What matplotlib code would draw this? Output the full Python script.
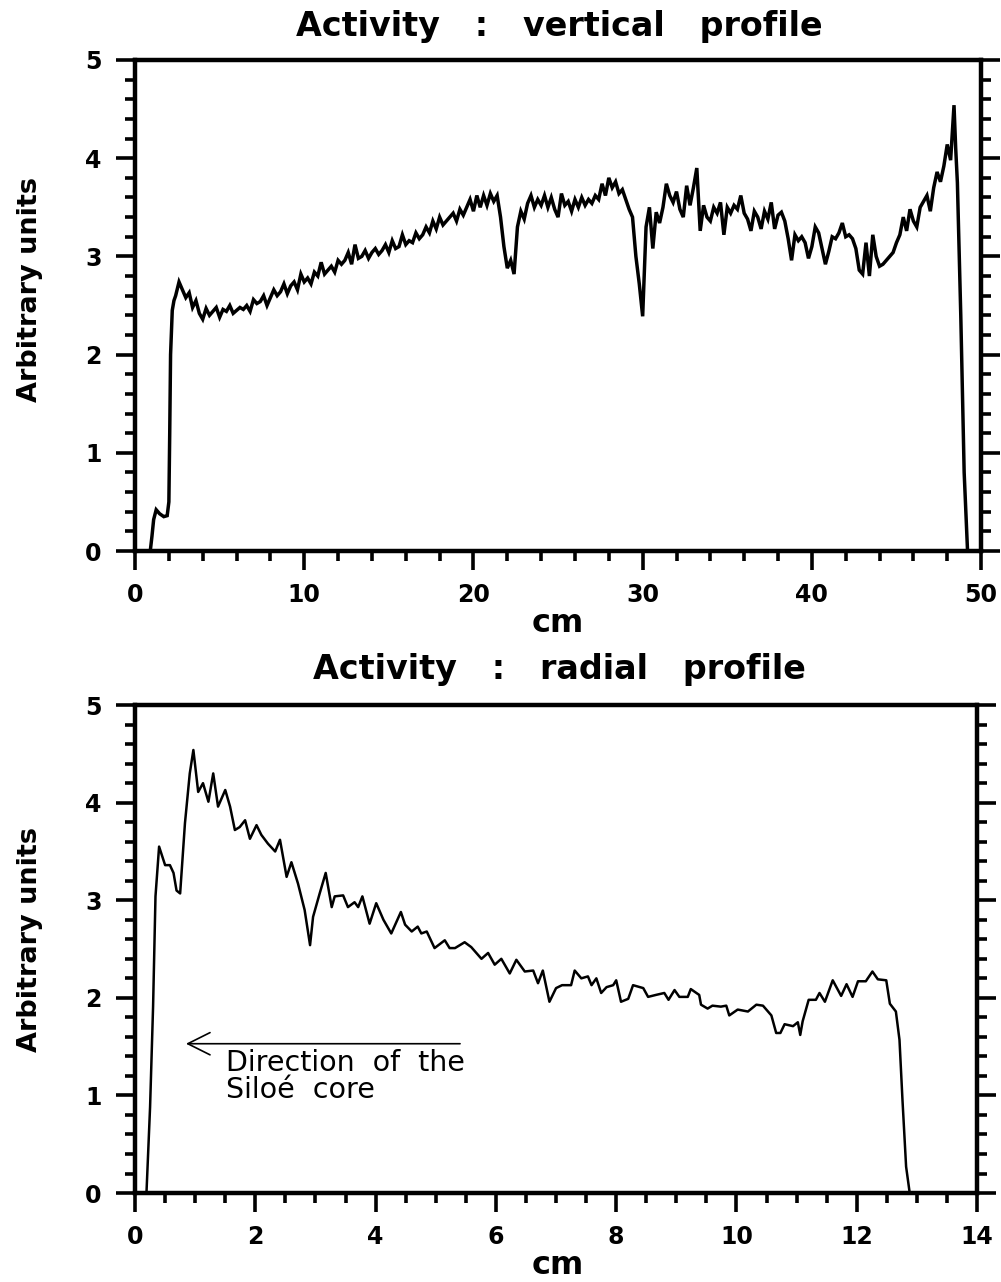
import numpy as np
import matplotlib
matplotlib.use("Agg")
import matplotlib.pyplot as plt
from matplotlib.ticker import MultipleLocator

plt.rcParams['font.family'] = ['DejaVu Sans']

# ---- vertical profile (cm, arbitrary units) ----
vert_lead_x = [0.0, 0.9, 1.0, 1.1, 1.25, 1.45, 1.7, 1.9, 2.0, 2.05, 2.1, 2.2, 2.3]
vert_lead_y = [0.0, 0.0, 0.15, 0.32, 0.42, 0.38, 0.35, 0.36, 0.5, 1.2, 2.0, 2.45, 2.55]

# body sampled every 0.2 cm from 2.4 to 48.4 cm
vert_body_start, vert_body_step = 2.4, 0.2
vert_body_y = [
    2.60, 2.74, 2.66, 2.58, 2.63, 2.48, 2.55, 2.42, 2.36, 2.47,
    2.40, 2.44, 2.48, 2.38, 2.46, 2.44, 2.50, 2.42, 2.45, 2.48,
    2.46, 2.50, 2.44, 2.56, 2.52, 2.54, 2.60, 2.50, 2.58, 2.66,
    2.60, 2.64, 2.72, 2.62, 2.70, 2.74, 2.66, 2.82, 2.74, 2.78,
    2.72, 2.84, 2.80, 2.94, 2.82, 2.86, 2.90, 2.84, 2.96, 2.92,
    2.96, 3.04, 2.92, 3.12, 2.98, 3.00, 3.06, 2.98, 3.04, 3.08,
    3.02, 3.06, 3.12, 3.04, 3.16, 3.08, 3.10, 3.22, 3.12, 3.16,
    3.14, 3.24, 3.18, 3.22, 3.30, 3.24, 3.36, 3.28, 3.40, 3.32,
    3.36, 3.40, 3.44, 3.36, 3.48, 3.42, 3.50, 3.58, 3.46, 3.62,
    3.50, 3.62, 3.52, 3.64, 3.56, 3.62, 3.40, 3.10, 2.88, 2.96,
    2.82, 3.30, 3.46, 3.38, 3.54, 3.62, 3.50, 3.58, 3.52, 3.62,
    3.50, 3.60, 3.48, 3.40, 3.64, 3.52, 3.56, 3.46, 3.58, 3.50,
    3.60, 3.52, 3.58, 3.54, 3.62, 3.58, 3.74, 3.62, 3.80, 3.70,
    3.76, 3.64, 3.68, 3.58, 3.48, 3.40, 3.00, 2.72, 2.39, 3.30,
    3.50, 3.08, 3.45, 3.34, 3.50, 3.74, 3.62, 3.55, 3.66, 3.48,
    3.40, 3.72, 3.52, 3.70, 3.90, 3.26, 3.52, 3.40, 3.36, 3.50,
    3.44, 3.55, 3.22, 3.50, 3.44, 3.52, 3.48, 3.62, 3.44, 3.38,
    3.26, 3.46, 3.40, 3.28, 3.46, 3.38, 3.55, 3.28, 3.42, 3.45,
    3.36, 3.18, 2.96, 3.22, 3.16, 3.20, 3.14, 2.98, 3.10, 3.30,
    3.24, 3.08, 2.92, 3.05, 3.20, 3.18, 3.24, 3.34, 3.20, 3.22,
    3.18, 3.08, 2.86, 2.82, 3.14, 2.80, 3.22, 3.00, 2.90, 2.92,
    2.96, 3.00, 3.04, 3.14, 3.22, 3.40, 3.26, 3.48, 3.36, 3.30,
    3.50, 3.56, 3.62, 3.46, 3.70, 3.86, 3.76, 3.92, 4.14, 3.98,
    4.54,
]
vert_tail_x = [48.5, 48.6, 48.8, 49.0, 49.2, 50.0]
vert_tail_y = [4.10, 3.75, 2.40, 0.80, 0.0, 0.0]

# ---- radial profile (cm, arbitrary units) ----
rad_x = [
    0.0, 0.19, 0.25, 0.30, 0.34, 0.40, 0.50, 0.58, 0.64, 0.69,
    0.75, 0.83, 0.91, 0.97, 1.05, 1.13, 1.22, 1.30, 1.38, 1.50,
    1.58, 1.66, 1.74, 1.83, 1.91, 2.02, 2.10, 2.21, 2.33, 2.41,
    2.52, 2.60, 2.71, 2.82, 2.91, 2.96, 3.07, 3.17, 3.27, 3.32,
    3.46, 3.54, 3.65, 3.71, 3.78, 3.90, 4.01, 4.13, 4.26, 4.42,
    4.49, 4.60, 4.70, 4.76, 4.85, 4.98, 5.15, 5.23, 5.32, 5.48,
    5.59, 5.76, 5.87, 5.98, 6.09, 6.23, 6.34, 6.48, 6.62, 6.70,
    6.78, 6.89, 7.00, 7.10, 7.25, 7.31, 7.42, 7.53, 7.59, 7.67,
    7.75, 7.84, 7.95, 8.00, 8.08, 8.20, 8.28, 8.45, 8.53, 8.66,
    8.80, 8.87, 8.97, 9.05, 9.19, 9.24, 9.38, 9.41, 9.52, 9.60,
    9.74, 9.83, 9.88, 10.02, 10.19, 10.33, 10.44, 10.58, 10.66, 10.73,
    10.80, 10.94, 11.02, 11.06, 11.10, 11.20, 11.32, 11.38, 11.47, 11.60,
    11.74, 11.83, 11.93, 12.02, 12.15, 12.26, 12.35, 12.49, 12.55, 12.65,
    12.71, 12.76, 12.82, 12.88, 14.0,
]
rad_y = [
    0.0, 0.0, 0.88, 1.91, 3.04, 3.55, 3.36, 3.36, 3.28, 3.10,
    3.07, 3.79, 4.30, 4.54, 4.11, 4.20, 4.01, 4.30, 3.96, 4.13,
    3.96, 3.72, 3.75, 3.82, 3.63, 3.77, 3.67, 3.58, 3.50, 3.62,
    3.24, 3.39, 3.17, 2.90, 2.54, 2.83, 3.07, 3.28, 2.93, 3.04,
    3.05, 2.93, 2.98, 2.93, 3.04, 2.76, 2.97, 2.80, 2.66, 2.88,
    2.75, 2.68, 2.73, 2.66, 2.68, 2.51, 2.59, 2.51, 2.51, 2.57,
    2.52, 2.40, 2.46, 2.34, 2.40, 2.25, 2.39, 2.27, 2.28, 2.15,
    2.28, 1.96, 2.10, 2.13, 2.13, 2.28, 2.20, 2.22, 2.13, 2.20,
    2.05, 2.11, 2.13, 2.18, 1.96, 1.99, 2.13, 2.10, 2.01, 2.03,
    2.05, 1.98, 2.08, 2.01, 2.01, 2.09, 2.03, 1.93, 1.89, 1.92,
    1.91, 1.92, 1.82, 1.88, 1.86, 1.93, 1.92, 1.82, 1.64, 1.64,
    1.73, 1.71, 1.75, 1.62, 1.76, 1.98, 1.98, 2.05, 1.96, 2.18,
    2.02, 2.14, 2.01, 2.17, 2.17, 2.27, 2.19, 2.18, 1.94, 1.86,
    1.57, 0.95, 0.27, 0.0, 0.0,
]

vert_body_x = [round(vert_body_start + i * vert_body_step, 2) for i in range(len(vert_body_y))]
vert_x = vert_lead_x + vert_body_x + vert_tail_x
vert_y = vert_lead_y + vert_body_y + vert_tail_y

fig = plt.figure(figsize=(10.01, 12.82), dpi=100)
ax1 = fig.add_axes([0.1349, 0.5702, 0.8452, 0.3830])
ax2 = fig.add_axes([0.1349, 0.0694, 0.8412, 0.3806])


def style_axes(ax, xmax, xmajor, xminor):
    ax.set_xlim(0, xmax)
    ax.set_ylim(0, 5)
    ax.xaxis.set_major_locator(MultipleLocator(xmajor))
    ax.xaxis.set_minor_locator(MultipleLocator(xminor))
    ax.yaxis.set_major_locator(MultipleLocator(1))
    ax.yaxis.set_minor_locator(MultipleLocator(0.2))
    for side in ax.spines.values():
        side.set_linewidth(3.2)
    ax.tick_params(which='both', direction='out', left=True, right=True,
                   top=False, bottom=True, labelright=False, width=2.6)
    ax.tick_params(which='major', length=14)
    ax.tick_params(which='minor', length=7)
    ax.tick_params(axis='x', which='major', pad=9)
    ax.tick_params(axis='y', which='major', pad=10)
    for lab in ax.get_xticklabels() + ax.get_yticklabels():
        lab.set_fontsize(17)
        lab.set_fontweight('bold')


ax1.plot(vert_x, vert_y, color='black', lw=2.5, solid_joinstyle='miter')
style_axes(ax1, 50, 10, 2)

ax2.plot(rad_x, rad_y, color='black', lw=1.8)
style_axes(ax2, 14, 2, 0.5)

# arrow and note pointing toward the reactor core
ax2.annotate('', xy=(0.80, 1.53), xytext=(5.45, 1.53),
             arrowprops=dict(arrowstyle='->', lw=1.2, color='black',
                             mutation_scale=40))
ax2.text(1.51, 1.48, 'Direction  of  the\nSiloé  core', fontsize=20.5,
         va='top', ha='left', linespacing=0.98)

title_font = dict(fontsize=24, fontweight='bold', ha='center', va='center')
fig.text(0.5584, 0.979, 'Activity   :   vertical   profile', **title_font)
fig.text(0.5584, 0.4774, 'Activity   :   radial   profile', **title_font)

label_font = dict(fontsize=23, fontweight='bold', ha='center', va='center')
fig.text(0.5574, 1 - 623 / 1282, 'cm', **label_font)
fig.text(0.5574, 1 - 1266 / 1282, 'cm', **label_font)
ylab_font = dict(fontsize=19.5, fontweight='bold', ha='center', va='center',
                 rotation=90)
fig.text(0.030, 1 - 290 / 1282, 'Arbitrary units', **ylab_font)
fig.text(0.030, 1 - 940 / 1282, 'Arbitrary units', **ylab_font)

fig.savefig('out.png', dpi=100, facecolor='white')
